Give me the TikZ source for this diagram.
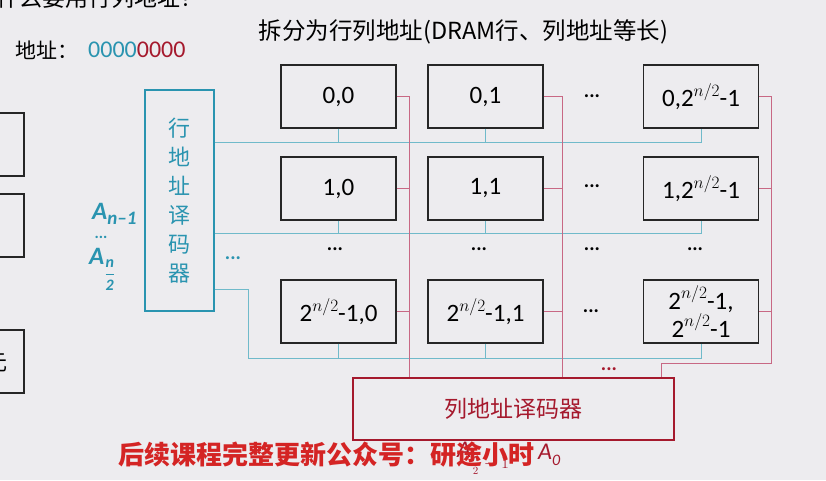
\documentclass[tikz,border=0pt]{standalone}
\usepackage{fontspec}
\setmainfont{Carlito}
\newfontfamily\cjk{Noto Sans CJK SC}
\definecolor{bg}{RGB}{237,236,239}
\definecolor{tealA}{RGB}{42,148,176}
\definecolor{tline}{RGB}{112,186,202}
\definecolor{rline}{RGB}{200,104,132}
\definecolor{dred}{RGB}{165,25,45}
\definecolor{wred}{RGB}{212,36,36}
\newcommand\pwr{\raisebox{0.42em}{\fontsize{17}{17}\selectfont$n/2$}}
\begin{document}
\begin{tikzpicture}[x=1pt,y=-1pt,
  cellbox/.style={draw=black!85, line width=1.2pt, minimum width=115pt, minimum height=63pt, inner sep=0pt, align=center, font=\fontsize{25}{28}\selectfont},
  leftbox/.style={draw=black!85, line width=1.2pt, minimum width=40pt, minimum height=63pt},
  dotsx/.style={inner sep=0pt, font=\bfseries\fontsize{20}{20}\selectfont},
  tl/.style={draw=tline, line width=1pt},
  rl/.style={draw=rline, line width=1pt},
  albl/.style={text=tealA, inner sep=0pt, font=\bfseries\itshape\fontsize{25}{25}\selectfont}
]
\clip (0,0) rectangle (826,480);
\fill[bg] (0,0) rectangle (826,480);

% partial elements at the edges
\node[anchor=base west, inner sep=0pt, font=\cjk\fontsize{23}{23}\selectfont] (toptext) at (-27,6) {为什么要用行列地址？};
\node[leftbox] (lb1) at (4,144.5) {};
\node[leftbox] (lb2) at (4,225.5) {};
\node[leftbox] (lb3) at (4,361.5) {};
\node[inner sep=0pt, font=\cjk\fontsize{22}{22}\selectfont] (lb3t) at (-3,363) {元};

% address
\node[anchor=west, inner sep=0pt, font=\cjk\fontsize{21}{21}\selectfont] (addr) at (15,50) {地址：};
\node[anchor=west, inner sep=0pt, font=\fontsize{24}{24}\selectfont] (bits) at (88,50) {\textcolor{tealA}{0000}\textcolor{dred}{0000}};

% title
\node[inner sep=0pt, font=\cjk\fontsize{23.5}{24}\selectfont] (title) at (463.5,32) {拆分为行列地址(DRAM行、列地址等长)};

% cells
\node[cellbox] (c00) at (338.5,96.5) {0,0};
\node[cellbox] (c01) at (485.5,96.5) {0,1};
\node[cellbox] (c02) at (701,96.5) {0,2\pwr-1};
\node[cellbox] (c10) at (338.5,188.5) {1,0};
\node[cellbox] (c11) at (485.5,188.5) {1,1};
\node[cellbox] (c12) at (701,188.5) {1,2\pwr-1};
\node[cellbox] (c20) at (338.5,311.5) {2\pwr-1,0};
\node[cellbox] (c21) at (485.5,311.5) {2\pwr-1,1};
\node[cellbox] (c22) at (701,311.5) {2\pwr-1,\\2\pwr-1};

% dots
\node[dotsx] (d1) at (592,96) {...};
\node[dotsx] (d2) at (592,186) {...};
\node[dotsx] (d3) at (335,249) {...};
\node[dotsx] (d4) at (479,249) {...};
\node[dotsx] (d5) at (592,249) {...};
\node[dotsx] (d6) at (695,249) {...};
\node[dotsx] (d7) at (591,311) {...};
\node[dotsx, text=tealA] (d8) at (233,258) {...};
\node[dotsx, text=dred] (d9) at (609,369) {...};

% decoders
\node[draw=tealA, line width=1.3pt, minimum width=69pt, minimum height=221pt, inner sep=0pt, text=tealA, align=center, font=\cjk\fontsize{22}{29}\selectfont] (rd) at (179.5,200.5) {行\\地\\址\\译\\码\\器};
\node[draw=dred, line width=1.3pt, minimum width=321pt, minimum height=62pt, inner sep=0pt, text=dred, font=\cjk\fontsize{23}{23}\selectfont] (cd) at (513.5,409) {列地址译码器};

% address labels
\node[albl, anchor=base west] (an1) at (92,219) {A\raisebox{-0.2em}{\fontsize{19}{19}\selectfont n–1}};
\node[albl, font=\bfseries\fontsize{16}{16}\selectfont] (adots) at (101,237) {...};
\node[albl, anchor=base west] (an2) at (89,264) {A\raisebox{-0.6em}{\fontsize{16}{16}\selectfont$\displaystyle\frac{\textbf{\textit{n}}}{\textbf{2}}$}};

% helper coordinates
\coordinate (r1) at (0,142);
\coordinate (r2) at (0,233);
\coordinate (r3) at (0,289);
\coordinate (r3a) at (248,289);
\coordinate (r3b) at (248,358);
\coordinate (k0) at (409,0);
\coordinate (k1) at (562,0);
\coordinate (k2) at (771,363);
\coordinate (k2b) at (661,0);

% row lines
\draw[tl] (rd.east|-r1) -| (c02.south);
\draw[tl] (c00.south) -- (c00.south|-r1);
\draw[tl] (c01.south) -- (c01.south|-r1);
\draw[tl] (rd.east|-r2) -| (c12.south);
\draw[tl] (c10.south) -- (c10.south|-r2);
\draw[tl] (c11.south) -- (c11.south|-r2);
\draw[tl] (rd.east|-r3) -- (r3a) -- (r3b) -| (c22.south);
\draw[tl] (c20.south) -- (c20.south|-r3b);
\draw[tl] (c21.south) -- (c21.south|-r3b);

% column lines
\draw[rl] (c00.east) -| (k0|-cd.north);
\draw[rl] (c10.east) -- (c10.east-|k0);
\draw[rl] (c20.east) -- (c20.east-|k0);
\draw[rl] (c01.east) -| (k1|-cd.north);
\draw[rl] (c11.east) -- (c11.east-|k1);
\draw[rl] (c21.east) -- (c21.east-|k1);
\draw[rl] (c02.east) -| (k2) -| (k2b|-cd.north);
\draw[rl] (c12.east) -- (c12.east-|k2);
\draw[rl] (c22.east) -- (c22.east-|k2);

% column address labels and watermark
\node[anchor=west, inner sep=0pt, text=dred, font=\itshape\fontsize{24}{24}\selectfont] (acol) at (457,458) {A\raisebox{-0.45em}{\fontsize{16}{16}\selectfont$\frac{n}{2}-1$}};
\node[anchor=west, inner sep=0pt, text=wred, font=\cjk\bfseries\fontsize{26}{26}\selectfont] (wm) at (118,455) {后续课程完整更新公众号：研途小时};
\node[anchor=west, inner sep=0pt, text=dred, font=\itshape\fontsize{24}{24}\selectfont] (a0) at (538,455) {A\raisebox{-0.25em}{\fontsize{16}{16}\selectfont 0}};
\end{tikzpicture}
\end{document}
